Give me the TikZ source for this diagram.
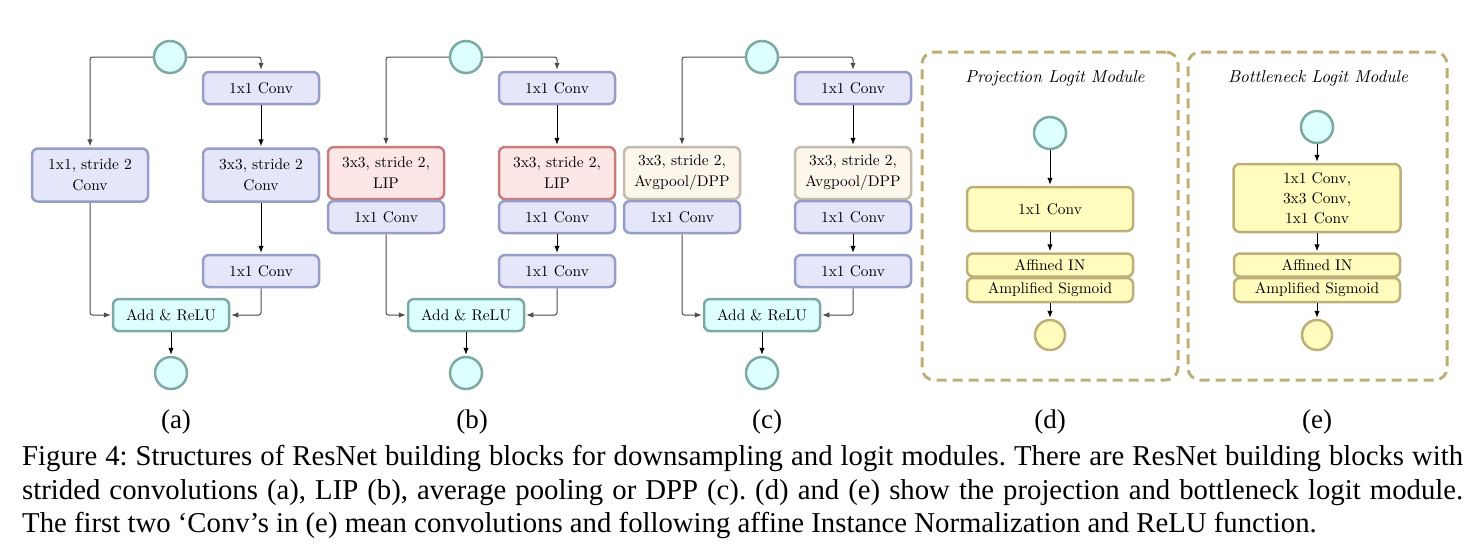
\documentclass[tikz,border=0pt]{standalone}
\usepackage{fontspec}
\setmainfont{lmroman10-regular.otf}[ItalicFont=lmroman10-italic.otf]
\newfontfamily\capfont{Liberation Serif}
\usetikzlibrary{arrows.meta}
\definecolor{blueF}{RGB}{230,230,250}
\definecolor{blueD}{RGB}{150,158,200}
\definecolor{cyanF}{RGB}{222,255,255}
\definecolor{cyanD}{RGB}{125,170,160}
\definecolor{redF}{RGB}{253,230,230}
\definecolor{redD}{RGB}{200,125,125}
\definecolor{begF}{RGB}{253,247,235}
\definecolor{begD}{RGB}{195,188,172}
\definecolor{yelF}{RGB}{255,252,190}
\definecolor{yelD}{RGB}{190,175,120}
\tikzset{
  box/.style={rectangle, rounded corners=6pt, line width=2.5pt, minimum width=116pt,
    minimum height=32pt, inner sep=0pt, align=center, font=\fontsize{15.4}{21}\selectfont},
  bluebox/.style={box, fill=blueF, draw=blueD},
  cyanbox/.style={box, fill=cyanF, draw=cyanD},
  redbox/.style={box, fill=redF, draw=redD, minimum height=52pt},
  begbox/.style={box, fill=begF, draw=begD, minimum height=52pt},
  yelbox/.style={box, fill=yelF, draw=yelD, minimum width=166pt},
  ccirc/.style={circle, minimum size=32pt, line width=2.5pt, inner sep=0pt, fill=cyanF, draw=cyanD},
  ycirc/.style={circle, minimum size=30pt, line width=2.5pt, inner sep=0pt, fill=yelF, draw=yelD},
  arr/.style={-{Latex[length=7pt,width=5.5pt]}, line width=1pt, rounded corners=2.5pt, shorten >=1pt},
  skiparr/.style={arr, draw=black!70},
  frame/.style={rectangle, rounded corners=12pt, line width=3pt, draw=yelD, dash pattern=on 10pt off 6pt,
    minimum height=328pt, inner sep=0pt},
  title/.style={font=\fontsize{17.2}{20}\selectfont\itshape},
  sublabel/.style={font=\capfont\fontsize{27}{32}\selectfont, anchor=base},
  capline/.style={font=\capfont\fontsize{28.75}{34}\selectfont\frenchspacing, anchor=base west, inner sep=0pt},
}
\begin{document}
\begin{tikzpicture}[x=1pt,y=-1pt]
\useasboundingbox (0,0) rectangle (1480,550);
% ---------- (a)
\node[ccirc] (ain) at (170,57) {};
\node[bluebox] (ac1) at (261,88) {1x1 Conv};
\node[bluebox, minimum height=53pt] (aL) at (90,175) {1x1, stride 2\\Conv};
\node[bluebox, minimum height=53pt] (aR) at (261,175) {3x3, stride 2\\Conv};
\node[bluebox] (ac2) at (261,271) {1x1 Conv};
\node[cyanbox] (aadd) at (171,315) {Add \& ReLU};
\node[ccirc] (aout) at (171,373) {};
\draw[skiparr] (ain.west) -| (aL.north);
\draw[skiparr] (ain.east) -| (ac1.north);
\draw[arr] (ac1) -- (aR);
\draw[arr] (aR) -- (ac2);
\draw[skiparr] (aL.south) |- (aadd.west);
\draw[skiparr] (ac2.south) |- (aadd.east);
\draw[arr] (aadd) -- (aout);
% ---------- (b)
\node[ccirc] (bin) at (466,57) {};
\node[bluebox] (bc1) at (557,88) {1x1 Conv};
\node[redbox] (bL) at (386,173) {3x3, stride 2,\\LIP};
\node[bluebox] (bLc) at (386,217) {1x1 Conv};
\node[redbox] (bR) at (557,173) {3x3, stride 2,\\LIP};
\node[bluebox] (bRc) at (557,217) {1x1 Conv};
\node[bluebox] (bc2) at (557,271) {1x1 Conv};
\node[cyanbox] (badd) at (466,315) {Add \& ReLU};
\node[ccirc] (bout) at (466,373) {};
\draw[skiparr] (bin.west) -| (bL.north);
\draw[skiparr] (bin.east) -| (bc1.north);
\draw[arr] (bc1) -- (bR);
\draw[arr] (bRc) -- (bc2);
\draw[skiparr] (bLc.south) |- (badd.west);
\draw[skiparr] (bc2.south) |- (badd.east);
\draw[arr] (badd) -- (bout);
% ---------- (c)
\node[ccirc] (cin) at (762,57) {};
\node[bluebox] (cc1) at (853,88) {1x1 Conv};
\node[begbox] (cL) at (682,173) {3x3, stride 2,\\Avgpool/DPP};
\node[bluebox] (cLc) at (682,217) {1x1 Conv};
\node[begbox] (cR) at (853,173) {3x3, stride 2,\\Avgpool/DPP};
\node[bluebox] (cRc) at (853,217) {1x1 Conv};
\node[bluebox] (cc2) at (853,271) {1x1 Conv};
\node[cyanbox] (cadd) at (762,315) {Add \& ReLU};
\node[ccirc] (cout) at (762,373) {};
\draw[skiparr] (cin.west) -| (cL.north);
\draw[skiparr] (cin.east) -| (cc1.north);
\draw[arr] (cc1) -- (cR);
\draw[arr] (cRc) -- (cc2);
\draw[skiparr] (cLc.south) |- (cadd.west);
\draw[skiparr] (cc2.south) |- (cadd.east);
\draw[arr] (cadd) -- (cout);
% ---------- (d)
\node[frame, minimum width=256pt] (dframe) at (1050,216) {};
\node[title] (dtitle) at (1055,78) {Projection Logit Module};
\node[ccirc] (din) at (1050,133) {};
\node[yelbox, minimum height=44pt] (dconv) at (1050,209) {1x1 Conv};
\node[yelbox, minimum height=23pt] (daff) at (1050,265) {Affined IN};
\node[yelbox, minimum height=24pt] (dsig) at (1050,290) {Amplified Sigmoid};
\node[ycirc] (dout) at (1050,335) {};
\draw[arr] (din) -- (dconv);
\draw[arr] (dconv) -- (daff);
\draw[arr] (dsig) -- (dout);
% ---------- (e)
\node[frame, minimum width=259pt] (eframe) at (1317.5,216) {};
\node[title] (etitle) at (1318,78) {Bottleneck Logit Module};
\node[ccirc] (ein) at (1317,127) {};
\node[yelbox, minimum width=167pt, minimum height=68pt, font=\fontsize{15.4}{20}\selectfont] (econv) at (1317,198) {1x1 Conv,\\3x3 Conv,\\1x1 Conv};
\node[yelbox, minimum height=23pt] (eaff) at (1317,265) {Affined IN};
\node[yelbox, minimum height=24pt] (esig) at (1317,290) {Amplified Sigmoid};
\node[ycirc] (eout) at (1317,335) {};
\draw[arr] (ein) -- (econv);
\draw[arr] (econv) -- (eaff);
\draw[arr] (esig) -- (eout);
% ---------- sublabels
\node[sublabel] (la) at (176,428) {(a)};
\node[sublabel] (lb) at (472,428) {(b)};
\node[sublabel] (lc) at (767,428) {(c)};
\node[sublabel] (ld) at (1050,428) {(d)};
\node[sublabel] (le) at (1317,428) {(e)};
% ---------- caption
\node[capline] (cap1) at (22,465) {\makebox[1441pt][s]{Figure 4: Structures of ResNet building blocks for downsampling and logit modules. There are ResNet building blocks with}};
\node[capline] (cap2) at (22,499) {\makebox[1441pt][s]{strided convolutions (a), LIP (b), average pooling or DPP (c). (d) and (e) show the projection and bottleneck logit module.}};
\node[capline] (cap3) at (22,532) {The first two ‘Conv’s in (e) mean convolutions and following affine Instance Normalization and ReLU function.};
\end{tikzpicture}
\end{document}
